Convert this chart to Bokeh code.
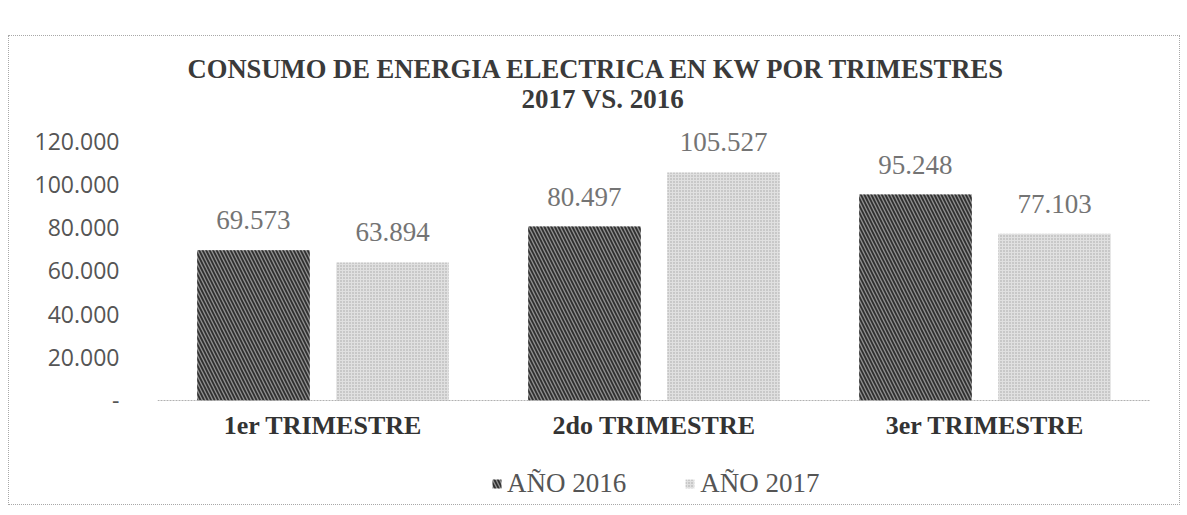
from bokeh.plotting import figure
from bokeh.models import (ColumnDataSource, FactorRange, FixedTicker, LabelSet,
                          Legend, LegendItem, Title, Span)
from bokeh.transform import dodge
from bokeh.embed import file_html
from bokeh.resources import INLINE

# ---- data ----
trimestres = ["1er TRIMESTRE", "2do TRIMESTRE", "3er TRIMESTRE"]
anio_2016 = [69573, 80497, 95248]
anio_2017 = [63894, 105527, 77103]
series_names = ["AÑO 2016", "AÑO 2017"]
y_ticks = [0, 20000, 40000, 60000, 80000, 100000, 120000]
y_tick_labels = ["-", "20.000", "40.000", "60.000", "80.000", "100.000", "120.000"]
title_line1 = "CONSUMO DE ENERGIA ELECTRICA EN KW POR TRIMESTRES"
title_line2 = "2017 VS. 2016"


def fmt(v):
    return f"{v:,}".replace(",", ".")


src = ColumnDataSource(dict(
    cat=trimestres,
    base=[0] * len(trimestres),
    y16=anio_2016,
    y17=anio_2017,
    l16=[fmt(v) for v in anio_2016],
    l17=[fmt(v) for v in anio_2017],
))

W, H = 1172, 470
p = figure(x_range=FactorRange(*trimestres, range_padding=0),
           y_range=(-48100, 130000),
           width=W, height=H,
           output_backend="svg", toolbar_location=None,
           min_border_left=148, min_border_right=31,
           min_border_top=83, min_border_bottom=2)
p.margin = (35, 0, 0, 8)
p.styles = {"border": "1px dotted #a8a8a8"}
p.outline_line_color = None
p.background_fill_color = "white"
p.border_fill_color = "white"

r16 = p.vbar(x=dodge("cat", -0.21, range=p.x_range), top="y16", width=0.34, source=src,
             fill_color="#909090", line_color=None,
             hatch_pattern="\\", hatch_color="#303030", hatch_scale=7, hatch_weight=1.8)
r17 = p.vbar(x=dodge("cat", 0.21, range=p.x_range), top="y17", width=0.34, source=src,
             fill_color="#e0e0e0", line_color=None,
             hatch_pattern=".", hatch_color="#a5a5a5", hatch_scale=3, hatch_weight=1)

# baseline (category axis line)
p.add_layout(Span(location=0, dimension="width", line_color="#b0b0b0",
                  line_width=1, line_dash="2 1"))

lab_kw = dict(text_font="Open Sans", text_font_size="27px", text_color="#747474",
              text_align="center", text_baseline="bottom", y_offset=21, source=src)
p.add_layout(LabelSet(x=dodge("cat", -0.21, range=p.x_range), y="y16", text="l16", **lab_kw))
p.add_layout(LabelSet(x=dodge("cat", 0.21, range=p.x_range), y="y17", text="l17", **lab_kw))

# category labels below the baseline
p.add_layout(LabelSet(x="cat", y="base", text="cat", source=src,
                      text_font="Liberation Serif", text_font_style="bold",
                      text_font_size="26px", text_color="#333333",
                      text_align="center", text_baseline="middle", y_offset=-25))

# axes
p.xgrid.grid_line_color = None
p.ygrid.grid_line_color = None
p.xaxis.visible = False

p.yaxis.ticker = FixedTicker(ticks=y_ticks)
p.yaxis.major_label_overrides = {t: l for t, l in zip(y_ticks, y_tick_labels)}
p.yaxis.axis_line_color = None
p.yaxis.major_tick_line_color = None
p.yaxis.minor_tick_line_color = None
p.yaxis.major_label_standoff = 32
p.yaxis.major_label_text_font = "Open Sans"
p.yaxis.major_label_text_font_size = "23px"
p.yaxis.major_label_text_color = "#555555"

# titles (line 2 first: later additions sit further up)
for txt, so, off, fs in [(title_line2, 12, 364, "27px"), (title_line1, -16, 30, "26.6px")]:
    p.add_layout(Title(text=txt, align="left", offset=off, standoff=so,
                       text_font="Liberation Serif", text_font_style="bold",
                       text_font_size=fs, text_color="#3a3a3a"), "above")

legend = Legend(items=[LegendItem(label=series_names[0], renderers=[r16]),
                       LegendItem(label=series_names[1], renderers=[r17])],
                orientation="horizontal", location=(334, 5),
                border_line_color=None, background_fill_alpha=0,
                label_text_font="Liberation Serif", label_text_font_size="27px",
                label_text_color="#555555", glyph_width=11, glyph_height=11,
                label_standoff=5, spacing=58, padding=4, margin=0)
p.add_layout(legend, "center")

open("out.html", "w").write(file_html(p, INLINE))
